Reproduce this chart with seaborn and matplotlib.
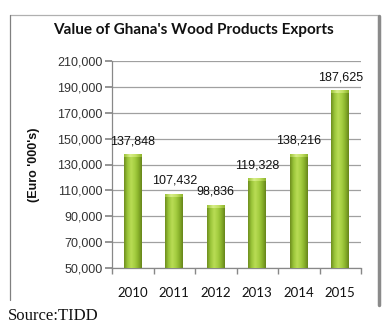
import numpy as np
import pandas as pd
import matplotlib
matplotlib.use("Agg")
import matplotlib.pyplot as plt
from matplotlib.lines import Line2D
from matplotlib.colors import LinearSegmentedColormap
import seaborn as sns

years = ["2010", "2011", "2012", "2013", "2014", "2015"]
values = [137848, 107432, 98836, 119328, 138216, 187625]
labels = ["137,848", "107,432", "98,836", "119,328", "138,216", "187,625"]
yticks = [50000, 70000, 90000, 110000, 130000, 150000, 170000, 190000, 210000]

sns.set_theme(style="white")
plt.rcParams["font.family"] = ["Liberation Sans", "DejaVu Sans"]

fig = plt.figure(figsize=(3.9, 3.28), dpi=100)
ax = fig.add_axes([112/390, 1-268/328, 249/390, 207/328])

df = pd.DataFrame({"year": years, "value": values})
sns.barplot(data=df, x="year", y="value", color="#9cc23a", width=0.43, ax=ax,
            saturation=1, zorder=3)

ymin, ymax = 50000, 210000
ax.set_ylim(ymin, ymax)
ax.set_xlim(-0.5, 5.5)
ax.set_yticks(yticks)
ax.set_yticklabels([f"{v:,}" for v in yticks], fontsize=9, color="#333333")
ax.yaxis.grid(True, color="#a0a0a0", linewidth=0.9, zorder=0)
ax.set_axisbelow(True)

# gradient fill for bars
cmap = LinearSegmentedColormap.from_list(
    "g", ["#6e8f1e", "#9cc63a", "#b9dc55", "#a6cf42", "#8ab32c", "#67861b"])
capmap = LinearSegmentedColormap.from_list(
    "c", ["#9dc43a", "#d8ee8a", "#c2e063", "#8fb52e"])
grad = np.linspace(0, 1, 64).reshape(1, -1)
for p in list(ax.patches):
    x0, y0 = p.get_x(), p.get_y()
    w, h = p.get_width(), p.get_height()
    top = y0 + h
    im = ax.imshow(grad, cmap=cmap, aspect="auto",
                   extent=[x0, x0 + w, ymin, top], zorder=3.5)
    im.set_clip_path(p)
    p.set_edgecolor("none")
    cap = ax.imshow(np.linspace(0, 1, 32).reshape(1, -1), cmap=capmap,
                    aspect="auto", extent=[x0, x0 + w, top - 2200, top], zorder=3.6)
    cap.set_clip_path(p)
ax.set_xlim(-0.5, 5.5)
ax.set_ylim(ymin, ymax)

for i, (v, lab) in enumerate(zip(values, labels)):
    ax.annotate(lab, (i, v), xytext=(0, 5), textcoords="offset points",
                ha="center", va="bottom", fontsize=9, color="#111111", zorder=5)

for s in ["top", "right"]:
    ax.spines[s].set_visible(False)
ax.spines["left"].set_color("#888888")
ax.spines["bottom"].set_color("#888888")
ax.spines["left"].set_linewidth(0.9)
ax.spines["bottom"].set_linewidth(0.9)

ax.tick_params(axis="y", which="major", left=True, length=5, color="#888888", pad=2)
ax.set_xticks(range(6))
ax.set_xticklabels(years, fontsize=9.5, color="#111111", family=["Lato", "DejaVu Sans"])
ax.tick_params(axis="x", which="major", bottom=False, pad=8)
ax.set_xticks(np.arange(-0.5, 6, 1), minor=True)
ax.tick_params(axis="x", which="minor", bottom=True, length=4, color="#888888")

ax.set_xlabel("")
ax.set_ylabel("(Euro '000's)", fontsize=9, fontweight="bold", color="#111111")
ax.yaxis.set_label_coords(-0.29, 0.5)

fig.text(193/390, 1-30/328, "Value of Ghana's Wood Products Exports",
         ha="center", va="center", fontsize=11, fontweight="bold",
         family=["Lato", "DejaVu Sans"], color="#111111")

# frame
fig.add_artist(Line2D([10/390, 378/390], [1-15/328, 1-15/328], transform=fig.transFigure,
                      color="#b0b0b0", linewidth=0.9))
fig.add_artist(Line2D([10/390, 10/390], [1-15/328, 1-300/328], transform=fig.transFigure,
                      color="#808080", linewidth=0.9))
fig.add_artist(Line2D([379/390, 379/390], [1-16/328, 1-305/328], transform=fig.transFigure,
                      color="#8a8a8a", linewidth=2.5))

fig.text(8/390, 1-316/328, "Source:TIDD", ha="left", va="center", fontsize=12,
         family=["Liberation Serif", "DejaVu Serif"], color="#111111")

fig.savefig("out.png", dpi=100)
